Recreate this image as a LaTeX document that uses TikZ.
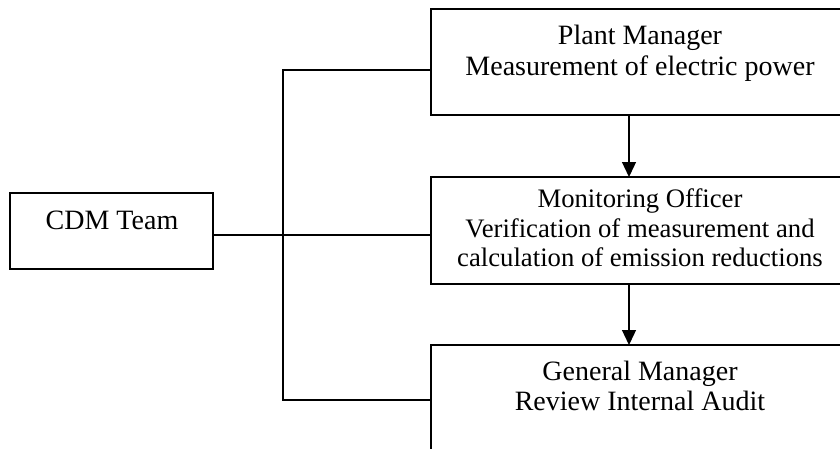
\documentclass[tikz,border=0pt]{standalone}
\usepackage{fontspec}
\setmainfont{Liberation Serif}
\usetikzlibrary{arrows.meta}
\begin{document}
\begin{tikzpicture}[x=1pt,y=-1pt,
  box/.style={draw=black,line width=1.3pt,rectangle,inner sep=0pt,outer sep=0pt},
  txt/.style={anchor=base,inner sep=0pt,font=\fontsize{28}{31}\selectfont},
  smalltxt/.style={anchor=base,inner sep=0pt,font=\fontsize{26.7}{30}\selectfont},
  conn/.style={draw=black,line width=1.3pt},
  arr/.style={conn,-{Triangle[length=15pt,width=14pt]}}]
\clip (0,0) rectangle (840,448);
\useasboundingbox (0,0) rectangle (840,448);
% boxes
\node[box,minimum width=203pt,minimum height=76pt] (cdm) at (111.5,231) {};
\node[box,minimum width=418pt,minimum height=106pt] (pm) at (640,62) {};
\node[box,minimum width=418pt,minimum height=107pt] (mo) at (640,230.5) {};
\node[box,minimum width=418pt,minimum height=107pt] (gm) at (640,398.5) {};
% texts
\node[txt] (cdmt) at (112,229) {CDM Team};
\node[txt] (pm1) at (640,44) {Plant Manager};
\node[txt] (pm2) at (640,75) {Measurement of electric power};
\node[smalltxt] (mo1) at (640,207) {Monitoring Officer};
\node[smalltxt] (mo2) at (640,237) {Verification of measurement and};
\node[smalltxt] (mo3) at (640,266) {calculation of emission reductions};
\node[txt] (gm1) at (640,380) {General Manager};
\node[txt] (gm2) at (640,410) {Review Internal Audit};
% connectors
\coordinate (j) at (283,235);
\coordinate (top) at (283,70);
\coordinate (bot) at (283,400);
\coordinate (ax) at (629,0);
\draw[conn] (cdm.east |- j) -- (j) -- (mo.west |- j);
\draw[conn] (pm.west |- top) -- (top) -- (bot) -- (gm.west |- bot);
\draw[arr] (pm.south -| ax) -- (mo.north -| ax);
\draw[arr] (mo.south -| ax) -- (gm.north -| ax);
\end{tikzpicture}
\end{document}
